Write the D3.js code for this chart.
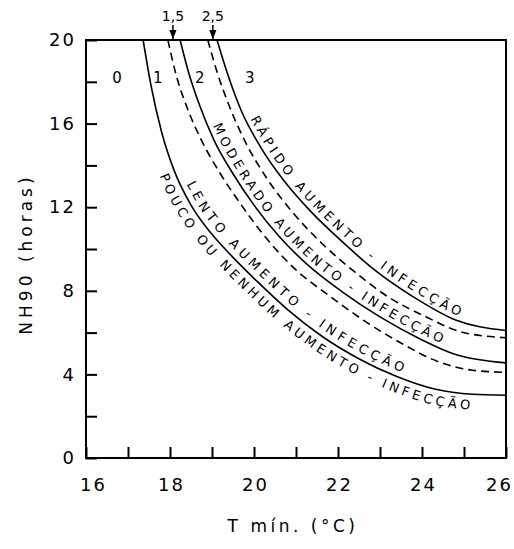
<!DOCTYPE html>
<html>
<head>
<meta charset="utf-8">
<script src="https://cdn.jsdelivr.net/npm/d3@7"></script>
<style>
  body { margin: 0; background: #fff; }
  svg { display: block; }
</style>
</head>
<body>
<div id="chart"></div>
<script>
// limits between the infection classes, [T min (°C), NH90 (h)]
const limit01 = [[17.36, 20], [17.55, 17.8], [17.8, 15.6], [18.1, 13.75], [18.5, 12.1], [19.0, 10.7],
  [19.5, 9.6], [20.1, 8.4], [20.8, 7.1], [21.6, 5.85], [22.45, 4.8], [23.4, 3.9], [24.3, 3.3],
  [25.2, 3.05], [26, 3.0]];
const limit15 = [[17.95, 20], [18.15, 18.3], [18.4, 16.8], [18.75, 15.2], [19.2, 13.6], [19.7, 12.1],
  [20.3, 10.5], [21.0, 9.0], [21.8, 7.75], [22.6, 6.6], [23.5, 5.5], [24.4, 4.6], [25.2, 4.2], [26, 4.1]];
const limit12 = [[18.24, 20], [18.45, 18.4], [18.7, 16.9], [19.05, 15.2], [19.5, 13.6], [20.0, 12.1],
  [20.6, 10.6], [21.3, 9.2], [22.1, 7.95], [23.0, 6.75], [24.0, 5.65], [24.8, 4.95], [26, 4.55]];
const limit25 = [[18.9, 20], [19.1, 18.6], [19.4, 16.9], [19.8, 15.1], [20.3, 13.4], [20.9, 11.8],
  [21.6, 10.3], [22.4, 8.9], [23.2, 7.7], [24.1, 6.75], [24.9, 6.05], [26, 5.75]];
const limit23 = [[19.12, 20], [19.35, 18.5], [19.7, 16.6], [20.15, 14.9], [20.7, 13.3], [21.35, 11.8],
  [22.1, 10.35], [22.9, 8.95], [23.8, 7.7], [24.8, 6.6], [26, 6.1]];

const classNames = ["0", "1", "2", "3"];
const classT = [16.74, 17.71, 18.71, 19.9];
const classNH = 18.2;

const arrowNames = ["1,5", "2,5"];
const arrowT = [18.07, 19.02];

const bandTexts = ["POUCO OU NENHUM AUMENTO - INFECÇÃO", "LENTO AUMENTO - INFECÇÃO",
  "MODERADO AUMENTO - INFECÇÃO", "RÁPIDO AUMENTO - INFECÇÃO"];
const bandStartT = [18.08, 18.25, 18.9, 19.8];

const xTickValues = [16, 17, 18, 19, 20, 21, 22, 23, 24, 25, 26];
const yTickValues = [0, 2, 4, 6, 8, 10, 12, 14, 16, 18, 20];

const width = 514, height = 549;
const font = "'DejaVu Sans', sans-serif";

const svg = d3.select("#chart").append("svg")
  .attr("width", width)
  .attr("height", height);

const x = d3.scaleLinear().domain([16, 26]).range([86, 506]);
const y = d3.scaleLinear().domain([0, 20]).range([458, 40]);

const line = d3.line()
  .x(d => x(d[0]))
  .y(d => y(d[1]))
  .curve(d3.curveMonotoneX);

// axes, ticks pointing inside
const xAxis = svg.append("g")
  .attr("transform", "translate(0," + y(0) + ")")
  .call(d3.axisBottom(x).tickValues(xTickValues).tickSizeInner(-11).tickSizeOuter(0)
    .tickPadding(20).tickFormat(d => d % 2 === 0 ? d : ""));
const yAxis = svg.append("g")
  .attr("transform", "translate(" + x(16) + ",0)")
  .call(d3.axisLeft(y).tickValues(yTickValues).tickSizeInner(-11).tickSizeOuter(0)
    .tickPadding(10).tickFormat(d => d % 4 === 0 ? d : ""));

[xAxis, yAxis].forEach(g => {
  g.select(".domain").remove();
  g.selectAll(".tick line").attr("stroke", "#000").attr("stroke-width", 2);
  g.selectAll("text").attr("font-family", font).attr("font-size", 18)
    .attr("letter-spacing", 2).attr("fill", "#000");
});
// end labels of the x axis sit a bit inside
xAxis.selectAll(".tick text").attr("dx", d => d === 16 ? 7 : d === 26 ? -7 : 1);

svg.append("rect")
  .attr("x", x(16)).attr("y", y(20))
  .attr("width", x(26) - x(16)).attr("height", y(0) - y(20))
  .attr("fill", "none").attr("stroke", "#000").attr("stroke-width", 2);

// class limits
const limits = [
  { data: limit01, dash: null },
  { data: limit15, dash: "8,5" },
  { data: limit12, dash: null },
  { data: limit25, dash: "8,5" },
  { data: limit23, dash: null }
];

svg.selectAll(".limit")
  .data(limits)
  .enter()
  .append("path")
  .attr("class", "limit")
  .attr("d", d => line(d.data))
  .attr("fill", "none")
  .attr("stroke", "#000")
  .attr("stroke-width", 1.6)
  .attr("stroke-dasharray", d => d.dash);

// class numbers
svg.selectAll(".cls")
  .data(classNames)
  .enter()
  .append("text")
  .attr("x", (d, i) => x(classT[i]))
  .attr("y", y(classNH))
  .attr("dy", "0.35em")
  .attr("text-anchor", "middle")
  .attr("font-family", font)
  .attr("font-size", 15)
  .text(d => d);

// arrows on top
const defs = svg.append("defs");
defs.append("marker")
  .attr("id", "head")
  .attr("viewBox", "0 0 10 10")
  .attr("refX", 10).attr("refY", 5)
  .attr("markerWidth", 6).attr("markerHeight", 6)
  .attr("orient", "auto")
  .append("path").attr("d", "M0,1L10,5L0,9Z").attr("fill", "#000");

svg.selectAll(".arrow")
  .data(arrowNames)
  .enter()
  .append("line")
  .attr("x1", (d, i) => x(arrowT[i])).attr("x2", (d, i) => x(arrowT[i]))
  .attr("y1", 25).attr("y2", y(20) - 1)
  .attr("stroke", "#000").attr("stroke-width", 1.5)
  .attr("marker-end", "url(#head)");

svg.selectAll(".arrowLabel")
  .data(arrowNames)
  .enter()
  .append("text")
  .attr("x", (d, i) => x(arrowT[i]))
  .attr("y", 21)
  .attr("text-anchor", "middle")
  .attr("font-family", font)
  .attr("font-size", 14)
  .text(d => d);

// labels written along the curves: a copy of the curve moved sideways
function offsetPath(base, startT, off) {
  const tmp = svg.append("path").attr("d", line(base)).attr("fill", "none");
  const node = tmp.node();
  const total = node.getTotalLength();
  const pts = [];
  for (let s = 0; s <= total; s += 2) {
    const p = node.getPointAtLength(s);
    pts.push([p.x, p.y]);
  }
  tmp.remove();
  const out = [];
  const x0 = x(startT);
  for (let i = 0; i < pts.length; i++) {
    if (pts[i][0] < x0) continue;
    const a = pts[Math.max(0, i - 3)], b = pts[Math.min(pts.length - 1, i + 3)];
    const dx = b[0] - a[0], dy = b[1] - a[1], len = Math.hypot(dx, dy) || 1;
    out.push([pts[i][0] + dy / len * off, pts[i][1] - dx / len * off]);
  }
  return d3.line().curve(d3.curveBasis)(out);
}

const bandBase = [limit01, limit01, limit12, limit23];
const bandOffset = [-15.5, 6, 5, 5];
const bandSpacing = [3.7, 4.3, 3.7, 3.9];

bandTexts.forEach((t, i) => {
  defs.append("path")
    .attr("id", "band" + i)
    .attr("d", offsetPath(bandBase[i], bandStartT[i], bandOffset[i]));
  svg.append("text")
    .attr("font-family", font)
    .attr("font-size", 13)
    .attr("letter-spacing", bandSpacing[i])
    .append("textPath")
    .attr("href", "#band" + i)
    .text(t);
});

// axis titles
svg.append("text")
  .attr("x", 293).attr("y", 532)
  .attr("text-anchor", "middle")
  .attr("font-family", font)
  .attr("font-size", 17)
  .attr("letter-spacing", 3.5)
  .text("T mín. (°C)");

svg.append("text")
  .attr("transform", "translate(32,254) rotate(-90)")
  .attr("text-anchor", "middle")
  .attr("font-family", font)
  .attr("font-size", 17)
  .attr("letter-spacing", 4)
  .text("NH90 (horas)");
</script>
</body>
</html>
